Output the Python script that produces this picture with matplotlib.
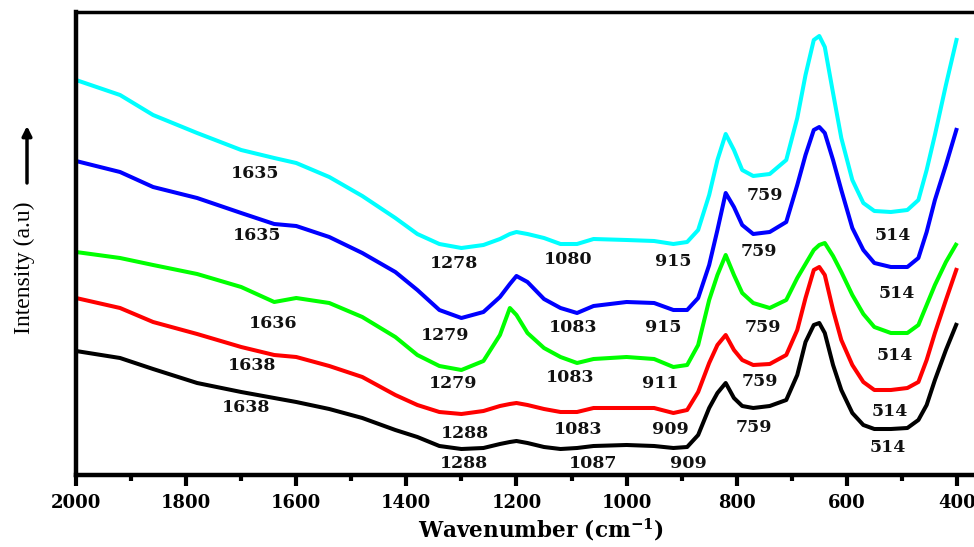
import matplotlib
matplotlib.use("Agg")
import matplotlib.pyplot as plt
from matplotlib.ticker import MultipleLocator

plt.rcParams['mathtext.fontset'] = 'dejavuserif'

# wavenumber grid (cm^-1)
wavenumber = [2000, 1920, 1860, 1780, 1700, 1640, 1600, 1540, 1480, 1420, 1380, 1340,
              1300, 1260, 1230, 1212, 1200, 1180, 1150, 1120, 1090, 1060, 1000, 950,
              915, 890, 870, 850, 835, 820, 805, 790, 770, 740, 710, 690, 675, 660,
              650, 640, 625, 610, 590, 570, 550, 520, 490, 470, 455, 440, 420, 400]

# intensities (a.u., stacked)
cyan_y = [395, 380, 360, 342, 325, 317, 312, 298, 279, 257, 241, 231, 227, 230, 236, 241,
          243, 241, 237, 231, 231, 236, 235, 234, 231, 233, 245, 280, 315, 341, 325, 305,
          299, 301, 315, 357, 400, 435, 439, 428, 382, 337, 295, 272, 264, 263, 265, 275,
          305, 340, 390, 437]
blue_y = [314, 303, 288, 277, 262, 251, 249, 238, 222, 203, 185, 165, 157, 163, 178, 191,
          199, 193, 176, 167, 162, 169, 173, 172, 165, 165, 177, 210, 245, 282, 268, 250,
          241, 243, 253, 290, 320, 345, 348, 342, 315, 285, 247, 225, 212, 208, 208, 217,
          243, 275, 310, 347]
green_y = [223, 217, 210, 201, 188, 173, 177, 172, 158, 138, 120, 109, 105, 114, 140, 167,
           160, 142, 127, 118, 112, 116, 118, 116, 108, 110, 130, 175, 200, 220, 200, 182,
           172, 167, 175, 197, 211, 225, 230, 232, 219, 203, 180, 161, 148, 142, 142, 150,
           170, 190, 213, 232]
red_y = [177, 167, 153, 141, 128, 120, 118, 109, 98, 80, 70, 63, 61, 64, 69, 71,
         72, 70, 66, 63, 63, 67, 67, 67, 62, 65, 83, 112, 130, 140, 125, 115,
         110, 111, 120, 145, 177, 205, 208, 200, 165, 135, 110, 93, 85, 85, 87, 93,
         115, 142, 175, 207]
black_y = [124, 117, 106, 92, 83, 77, 73, 66, 57, 45, 38, 29, 26, 27, 31, 33,
           34, 32, 28, 26, 27, 29, 30, 29, 27, 28, 40, 67, 82, 92, 77, 69,
           67, 69, 75, 100, 133, 150, 152, 142, 110, 85, 62, 50, 46, 46, 47, 55,
           70, 95, 125, 152]

# peak annotations: (text, wavenumber position, intensity position)
cyan_labels = [("1635", 1675, 302), ("1278", 1313, 211), ("1080", 1106, 215),
               ("915", 916, 213), ("759", 749, 279), ("514", 516, 239)]
blue_labels = [("1635", 1671, 239), ("1279", 1330, 139), ("1083", 1097, 147),
               ("915", 934, 148), ("759", 760, 223), ("514", 509, 182)]
green_labels = [("1636", 1642, 152), ("1279", 1315, 91), ("1083", 1103, 98),
                ("911", 939, 92), ("759", 752, 147), ("514", 513, 119)]
red_labels = [("1638", 1680, 109), ("1288", 1293, 42), ("1083", 1088, 45),
              ("909", 921, 45), ("759", 758, 94), ("514", 522, 64)]
black_labels = [("1638", 1691, 68), ("1288", 1295, 12), ("1087", 1061, 12),
                ("909", 887, 11), ("759", 769, 47), ("514", 525, 27)]

W, H = 974, 547
fig = plt.figure(figsize=(W / 100, H / 100), dpi=100)
ax = fig.add_axes([76 / W, 72 / H, 1 - 76 / W, (475 - 12) / H])

series = [(black_y, 'black'), (red_y, '#ff0000'), (green_y, '#00ff00'),
          (blue_y, '#0000ff'), (cyan_y, '#00ffff')]
for ys, c in series:
    ax.plot(wavenumber, ys, color=c, lw=2.9, solid_joinstyle='round',
            solid_capstyle='butt')

lab_font = dict(family='DejaVu Serif', fontweight='bold', fontsize=12.5,
                color='#111111', ha='center', va='center')
for labels in [cyan_labels, blue_labels, green_labels, red_labels, black_labels]:
    for t, x, y in labels:
        ax.text(x, y, t, **lab_font)

ax.set_xlim(2000, 369)
ax.set_ylim(0, 463)
ax.xaxis.set_major_locator(MultipleLocator(200))
ax.xaxis.set_minor_locator(MultipleLocator(100))
ax.set_yticks([])
ax.tick_params(axis='x', which='major', direction='out', length=8, width=3,
               pad=6, labelsize=13)
ax.tick_params(axis='x', which='minor', direction='out', length=4, width=3)
for lbl in ax.get_xticklabels():
    lbl.set_family('DejaVu Serif')
    lbl.set_fontweight('bold')
for s in ['left', 'bottom']:
    ax.spines[s].set_linewidth(3.2)
ax.spines['top'].set_linewidth(2.5)
ax.spines['right'].set_visible(False)

fig.text(541 / W, 1 - 530 / H, 'Wavenumber (cm$^{\\mathbf{-1}}$)', family='DejaVu Serif',
         fontweight='bold', fontsize=15.5, ha='center', va='center')

fig.text(24 / W, 1 - 268 / H, 'Intensity (a.u)', rotation=90, family='Liberation Serif',
         fontsize=17, ha='center', va='center')
ax.annotate('', xy=(27, H - 126), xytext=(27, H - 183), xycoords='figure pixels',
            textcoords='figure pixels',
            arrowprops=dict(arrowstyle='-|>', color='black', lw=2.5,
                            mutation_scale=14, shrinkA=0, shrinkB=0))

fig.savefig('out.png', dpi=100)
